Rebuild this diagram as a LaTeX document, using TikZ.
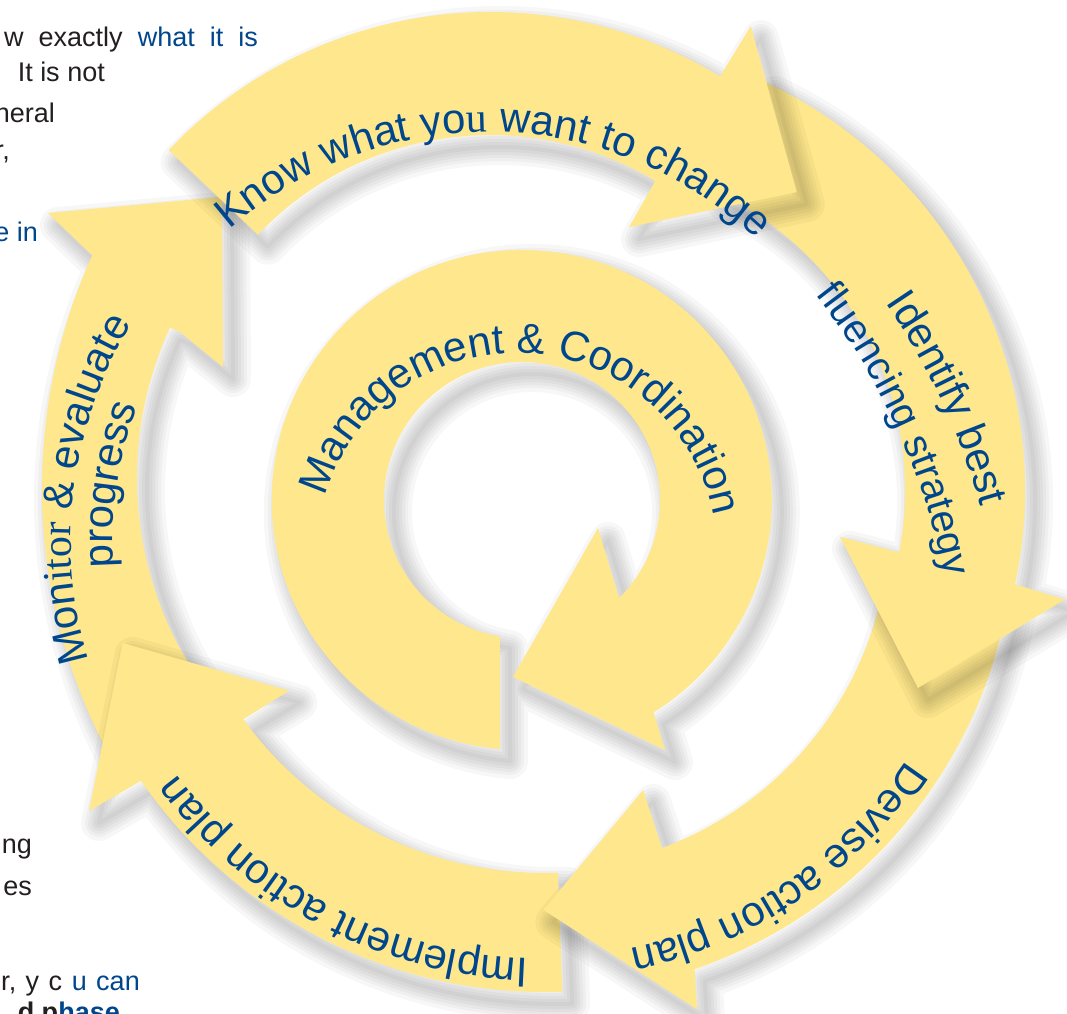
\documentclass[tikz,border=0pt]{standalone}
\usepackage{fontspec}
\setmainfont{Liberation Sans}
\newfontfamily\altserif{Liberation Serif}
\usetikzlibrary{decorations.text}
\definecolor{arrowyellow}{RGB}{254,231,140}
\definecolor{labelblue}{RGB}{0,70,140}
\definecolor{bodygray}{RGB}{35,31,32}
\newcommand\lblfont{\fontsize{42}{50}\selectfont\color{labelblue}}
\newcommand\lblfontsmall{\fontsize{40}{48}\selectfont\color{labelblue}}
\newcommand\bodyfont{\fontsize{27}{32}\selectfont}
\newcommand\bodyfontwide{\fontsize{27}{32}\selectfont\spaceskip=15pt\relax}
\newcommand\bodyfontmid{\fontsize{27}{32}\selectfont\spaceskip=9.5pt\relax}
\tikzset{
  shadowlayer/.style={draw=black,draw opacity=0.03,line join=round},
  ringarrow/.style={fill=arrowyellow},
  arclabel/.style={decorate,decoration={text along path,text align=center,text={#1}}},
  bodytext/.style={font=\bodyfont,text=bodygray,inner sep=0pt,anchor=base east},
}
\newcommand\castshadow[1]{%
  \foreach \sw in {4,10,16,22,28,36}{\path[shadowlayer,line width=\sw pt,shift={(10,-12)}] #1;}}
\def\pathMonitor{([shift={(208:565)}]607,525) arc[start angle=208,end angle=155.7,radius=565pt] -- (48,800) -- (222,816) -- (223,646) -- (180,681) -- ([shift={(155.3:360)}]497,535) arc[start angle=155.3,end angle=212,radius=360pt] -- cycle}
\def\pathImplement{([shift={(272:492)}]545,513) arc[start angle=272,end angle=214.8,radius=492pt] -- ([shift={(214.3:552)}]545,513) -- ([shift={(198.7:446)}]545,513) -- ([shift={(216.7:319)}]545,513) -- ([shift={(216:373)}]545,513) arc[start angle=216,end angle=272,radius=373pt] -- cycle}
\def\pathDevise{([shift={(-10:475)}]540,493) arc[start angle=-10,end angle=-71,radius=475pt] -- ([shift={(-72.2:514)}]540,493) -- ([shift={(-89.5:390)}]540,493) -- ([shift={(-69.1:289)}]540,493) -- ([shift={(-69.6:350)}]540,493) arc[start angle=-69.6,end angle=-10,radius=350pt] -- cycle}
\def\pathIdentify{([shift={(65:450)}]575,523) arc[start angle=65,end angle=-12.1,radius=450pt] -- ([shift={(-12.6:502)}]575,523) -- ([shift={(-30:396)}]575,523) -- ([shift={(-10:269)}]575,523) -- ([shift={(-10.9:330)}]575,523) arc[start angle=-10.9,end angle=65,radius=330pt] -- cycle}
\def\pathKnow{([shift={(136.5:443)}]490,558) arc[start angle=136.5,end angle=58.7,radius=443pt] -- ([shift={(58.7:502)}]490,558) -- ([shift={(40.6:404)}]490,558) -- ([shift={(58.6:267)}]490,558) -- ([shift={(58.9:320)}]490,558) arc[start angle=58.9,end angle=136.5,radius=320pt] -- cycle}
\def\pathInner{(500,264) arc[start angle=265,end angle=-58.2,radius=250pt] -- (665,263) -- (513,336) -- (598,485) -- ([shift={(-45.3:138)}]522,513) arc[start angle=-45.3,end angle=260.8,radius=138pt] -- cycle}
\begin{document}
\begin{tikzpicture}[x=1pt,y=1pt]
\useasboundingbox (0,0) rectangle (1067,1013);
\fill[white] (0,0) rectangle (1067,1013);
% left paragraph fragments
\node[bodytext,font=\bodyfontwide] (t1) at (258,966) {w exactly \textcolor{labelblue}{what it is}};
\node[bodytext] (t2) at (105,931) {It is not};
\node[bodytext] (t3) at (55,890) {neral};
\node[bodytext] (t4) at (10,853) {r,};
\node[bodytext,text=labelblue] (t5) at (38,771) {e in};
\node[bodytext] (t6) at (32,160) {ng};
\node[bodytext] (t7) at (32,118) {es};
\node[bodytext,font=\bodyfontmid] (t8) at (140,23) {r, y c \textcolor{labelblue}{u can}};
\node[bodytext,font=\bodyfont\bfseries] (t9) at (120,-8) {d p\textcolor{labelblue}{hase}};
% outer cycle arrows
\castshadow{\pathMonitor}
\path[ringarrow] \pathMonitor;
\castshadow{\pathImplement}
\path[ringarrow] \pathImplement;
\castshadow{\pathDevise}
\path[ringarrow] \pathDevise;
\castshadow{\pathIdentify}
\path[ringarrow] \pathIdentify;
\castshadow{\pathKnow}
\path[ringarrow] \pathKnow;
% inner arrow
\castshadow{\pathInner}
\path[ringarrow] \pathInner;
% labels along the arrows
\path[arclabel={|\lblfont|Know what yo|\lblfont\altserif|u|\lblfont| want to change}] ([shift={(150:390)}]488,491) arc[start angle=150,end angle=28,radius=390pt];
\path[arclabel={|\lblfont|Identify best}] ([shift={(45:708)}]300,313) arc[start angle=45,end angle=5,radius=708pt];
\path[arclabel={|\lblfontsmall|fluencing strategy}] ([shift={(45:656)}]300,313) arc[start angle=45,end angle=4,radius=656pt];
\path[arclabel={|\lblfont|Devise action plan}] ([shift={(0:438)}]540,493) arc[start angle=0,end angle=-111.4,radius=438pt];
\path[arclabel={|\lblfont|Implement action plan}] ([shift={(-60:459)}]545,513) arc[start angle=-60,end angle=-175.4,radius=459pt];
\path[arclabel={|\lblfont|Mon|\lblfont\altserif|itor|\lblfont| {\&} evaluate}] ([shift={(225:420)}]491,472) arc[start angle=225,end angle=120.4,radius=420pt];
\path[arclabel={|\lblfont|progress}] ([shift={(225:378)}]491,472) arc[start angle=225,end angle=118.2,radius=378pt];
\path[arclabel={|\lblfont|Management {\&} Coordination}] ([shift={(175:200)}]517,460) arc[start angle=175,end angle=-0.8,radius=200pt];
\end{tikzpicture}
\end{document}
